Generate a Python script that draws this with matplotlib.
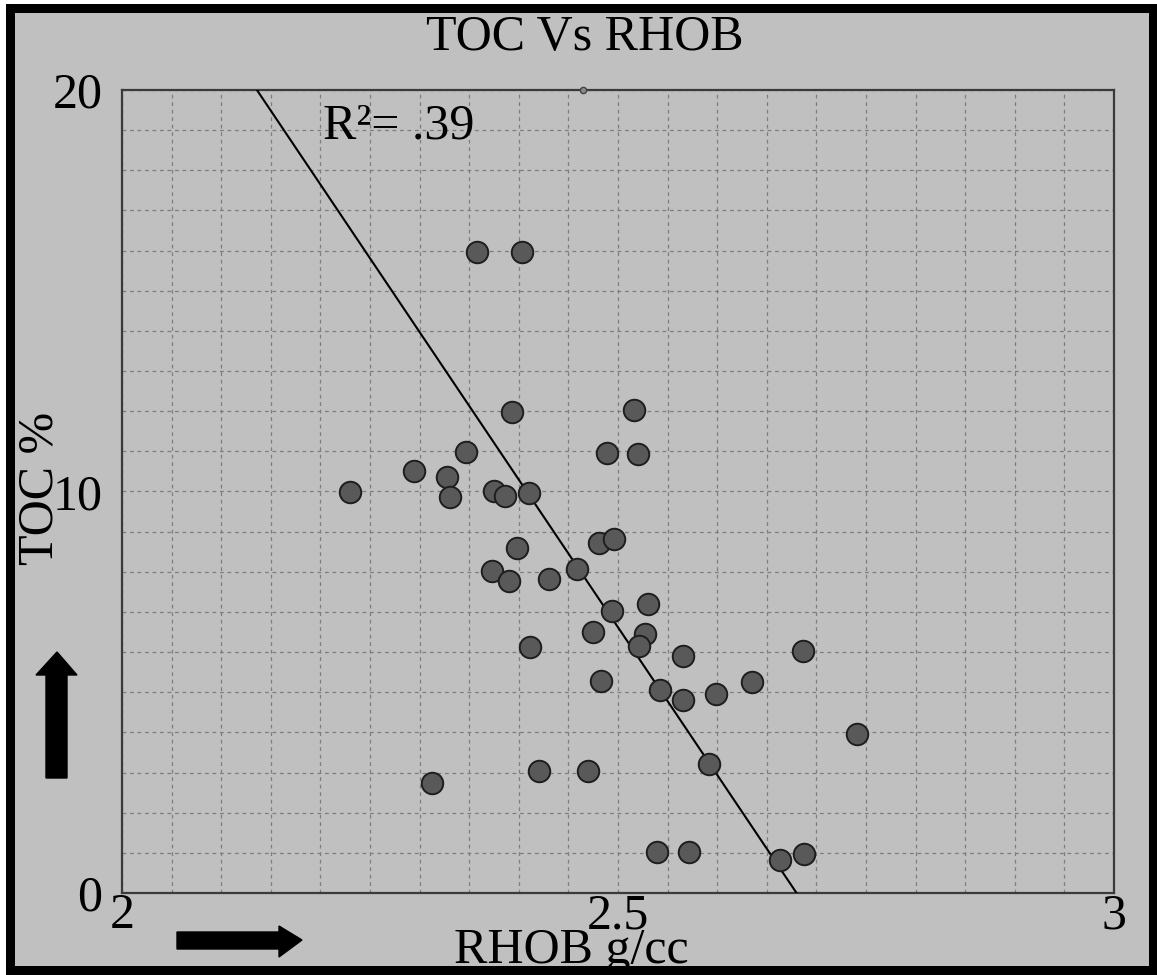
import matplotlib
matplotlib.use("Agg")
import matplotlib.pyplot as plt
from matplotlib.patches import Rectangle, Polygon
from matplotlib.ticker import MultipleLocator, FixedLocator

# ---- data ----
rhob = [2.230, 2.294, 2.328, 2.331, 2.347, 2.358, 2.403, 2.375, 2.386, 2.393,
        2.410, 2.398, 2.373, 2.390, 2.430, 2.459, 2.481, 2.496, 2.489, 2.516,
        2.520, 2.494, 2.530, 2.475, 2.527, 2.521, 2.411, 2.483, 2.542, 2.566,
        2.566, 2.599, 2.635, 2.686, 2.741, 2.592, 2.470, 2.420, 2.313, 2.539,
        2.572, 2.663, 2.687]
toc = [9.99, 10.51, 10.36, 9.86, 10.98, 15.97, 15.97, 10.01, 9.89, 11.98,
       9.96, 8.59, 8.02, 7.77, 7.82, 8.07, 8.72, 8.82, 10.96, 12.03,
       10.93, 7.02, 7.20, 6.50, 6.45, 6.15, 6.13, 5.28, 5.06, 5.90,
       4.81, 4.96, 5.26, 6.03, 3.96, 3.21, 3.04, 3.04, 2.74, 1.02,
       1.02, 0.82, 0.97]
fit_x = [2.136, 2.680]
fit_y = [20.0, 0.0]
marker_top = (2.465, 20.0)
r2_text = "R\u00b2= .39"
xticks = [2, 2.5, 3]
xticklabels = ["2", "2.5", "3"]
yticks = [0, 10, 20]
yticklabels = ["0", "10", "20"]
title = "TOC Vs RHOB"
xlabel = "RHOB g/cc"
ylabel = "TOC %"

W, H = 1157, 975
BG = "#c0c0c0"
plt.rcParams['font.family'] = ['Liberation Serif', 'DejaVu Serif']

fig = plt.figure(figsize=(W / 100, H / 100), dpi=100, facecolor="white")

def fx(px):
    return px / W

def fy(py):
    return 1 - py / H

# outer frame
fig.add_artist(Rectangle((fx(6), fy(975)), fx(1157) - fx(6), fy(4) - fy(975),
                         transform=fig.transFigure, facecolor="black",
                         edgecolor="none", zorder=0))
fig.add_artist(Rectangle((fx(15), fy(966)), fx(1149) - fx(15), fy(13) - fy(966),
                         transform=fig.transFigure, facecolor=BG,
                         edgecolor="none", zorder=0))

L, R, T, B = 122, 1114, 90, 893
ax = fig.add_axes([fx(L), fy(B), fx(R) - fx(L), fy(T) - fy(B)])
ax.set_facecolor(BG)
ax.set_xlim(2, 3)
ax.set_ylim(0, 20)

ax.xaxis.set_major_locator(FixedLocator(xticks))
ax.set_xticklabels(xticklabels)
ax.xaxis.set_minor_locator(MultipleLocator(0.05))
ax.yaxis.set_major_locator(FixedLocator(yticks))
ax.set_yticklabels(yticklabels)
ax.yaxis.set_minor_locator(MultipleLocator(1))
ax.tick_params(which="both", length=0)
ax.tick_params(axis="x", labelsize=36, pad=0)
ax.tick_params(axis="y", labelsize=36, pad=14)
ax.grid(True, which="both", color="#7e7e7e", linestyle=(0, (3, 3)), linewidth=0.9)
ax.set_axisbelow(True)
for s in ax.spines.values():
    s.set_color("#3a3a3a")
    s.set_linewidth(1.6)

ax.plot(fit_x, fit_y, color="black", linewidth=1.5, zorder=3)
ax.scatter(rhob, toc, s=240, facecolor="#595959", edgecolor="#1e1e1e",
           linewidth=1.4, zorder=4)
ax.plot([marker_top[0]], [marker_top[1]], marker="o", markersize=4.5,
        markerfacecolor="#8a8a8a", markeredgecolor="#444444", clip_on=False, zorder=5)

ax.text(2.203, 18.8, r2_text, fontsize=36, ha="left", va="baseline", zorder=5)

fig.text(fx(585), fy(38), title, fontsize=36, ha="center", va="center")
fig.text(fx(571), fy(963), xlabel, fontsize=36, ha="center", va="baseline")
fig.text(fx(40), fy(488), ylabel, fontsize=36, ha="center", va="center", rotation=90)

# arrows (decorations)
def arrow(pts):
    fig.add_artist(Polygon([(fx(x), fy(y)) for x, y in pts], closed=True,
                           transform=fig.transFigure, facecolor="black",
                           edgecolor="black", zorder=2))

arrow([(46, 778), (67, 778), (67, 675), (77, 675), (57, 652), (36, 675), (46, 675)])
arrow([(177, 932), (279, 932), (279, 926), (302, 940), (279, 957), (279, 949), (177, 949)])

fig.savefig("out.png", dpi=100, facecolor="white")
